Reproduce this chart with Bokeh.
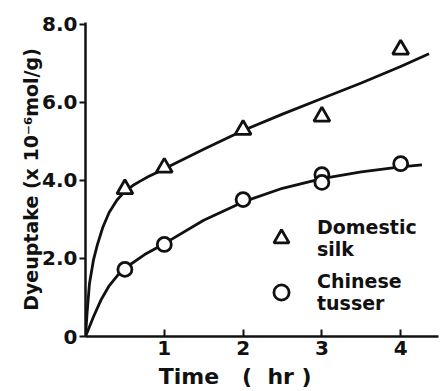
from bokeh.plotting import figure
from bokeh.models import Range1d, FixedTicker, Legend, LegendItem, Title
from bokeh.embed import file_html
from bokeh.resources import INLINE

# Measured points (time in hr, dye uptake in 1e-6 mol/g)
domestic_t = [0.5, 1, 2, 3, 4]
domestic_y = [3.78, 4.33, 5.3, 5.64, 7.36]
tusser_t = [0.5, 1, 2, 3, 3, 4]
tusser_y = [1.72, 2.36, 3.51, 4.15, 3.95, 4.43]

# Fitted curves as drawn
domestic_curve_t = [0, 0.02, 0.05, 0.1, 0.15, 0.22, 0.3, 0.4, 0.5, 0.6, 0.7, 0.8, 0.9,
                    1, 1.25, 1.5, 2, 2.5, 3, 3.5, 4, 4.36]
domestic_curve_y = [0, 0.6, 1.35, 1.95, 2.35, 2.8, 3.18, 3.5, 3.72, 3.87, 3.99, 4.1, 4.2,
                    4.3, 4.55, 4.8, 5.28, 5.7, 6.1, 6.5, 6.92, 7.25]
tusser_curve_t = [0, 0.1, 0.2, 0.3, 0.4, 0.5, 0.75, 1, 1.5, 2, 2.5, 3, 3.5, 4, 4.27]
tusser_curve_y = [0, 0.5, 0.95, 1.3, 1.55, 1.75, 2.1, 2.38, 2.98, 3.45, 3.8, 4.05, 4.22, 4.35, 4.4]

x_ticks = [1, 2, 3, 4]
y_ticks = [0, 2, 4, 6, 8]
y_tick_labels = {0: "0", 2: "2.0", 4: "4.0", 6: "6.0", 8: "8.0"}

FONT = "DejaVu Sans"
NB = "\u00a0"

p = figure(width=441, height=391, output_backend="svg", toolbar_location=None,
           x_range=Range1d(0, 4.48), y_range=Range1d(0, 8.05),
           min_border_left=85, min_border_right=3, min_border_top=22, min_border_bottom=54)
p.outline_line_color = None
p.grid.visible = False
p.background_fill_color = "white"

lc = "#111111"
p.line(domestic_curve_t, domestic_curve_y, line_color=lc, line_width=2.8)
p.line(tusser_curve_t, tusser_curve_y, line_color=lc, line_width=2.8)
tri = p.scatter(domestic_t, domestic_y, marker="triangle", size=16, fill_color="white",
                line_color=lc, line_width=2.8)
cir = p.scatter(tusser_t, tusser_y, marker="circle", size=14, fill_color="white",
                line_color=lc, line_width=2.8)

for ax in (p.xaxis[0], p.yaxis[0]):
    ax.axis_line_color = lc
    ax.axis_line_width = 2.5
    ax.major_tick_line_color = lc
    ax.major_tick_line_width = 2
    ax.minor_tick_line_color = None
    ax.major_label_text_font = FONT
    ax.major_label_text_font_style = "bold"
    ax.major_label_text_font_size = "20px"
    ax.major_label_text_color = lc
    ax.axis_label_text_font = FONT
    ax.axis_label_text_font_style = "bold"
    ax.axis_label_text_color = lc

p.xaxis.ticker = FixedTicker(ticks=x_ticks)
p.xaxis.major_tick_in = 7
p.xaxis.major_tick_out = 0
p.xaxis.major_label_standoff = 4
p.xaxis.axis_label = "Time" + NB * 3 + "(" + NB * 2 + "hr" + NB + ")" + NB * 7
p.xaxis.axis_label_text_font_size = "22px"
p.xaxis.axis_label_standoff = 6

p.yaxis.ticker = FixedTicker(ticks=y_ticks)
p.yaxis.major_label_overrides = y_tick_labels
p.yaxis.major_tick_in = 0
p.yaxis.major_tick_out = 6
p.yaxis.major_label_standoff = 2

ylab = Title(text="Dyeuptake (x 10\u207b\u2076mol/g)", align="center", offset=34,
             text_font=FONT, text_font_style="bold", text_font_size="19px",
             text_color=lc, standoff=-5)
p.add_layout(ylab, "left")

legend = Legend(items=[LegendItem(label="Domestic\nsilk", renderers=[tri]),
                       LegendItem(label="Chinese\ntusser", renderers=[cir])],
                location=(177, 22), padding=0, margin=0, spacing=10,
                border_line_color=None, background_fill_alpha=0,
                glyph_width=38, glyph_height=38, label_standoff=17,
                label_text_font=FONT, label_text_font_style="bold",
                label_text_font_size="19px", label_text_color=lc,
                label_text_line_height=0.85)
p.add_layout(legend, "center")

open("out.html", "w").write(file_html(p, INLINE))
